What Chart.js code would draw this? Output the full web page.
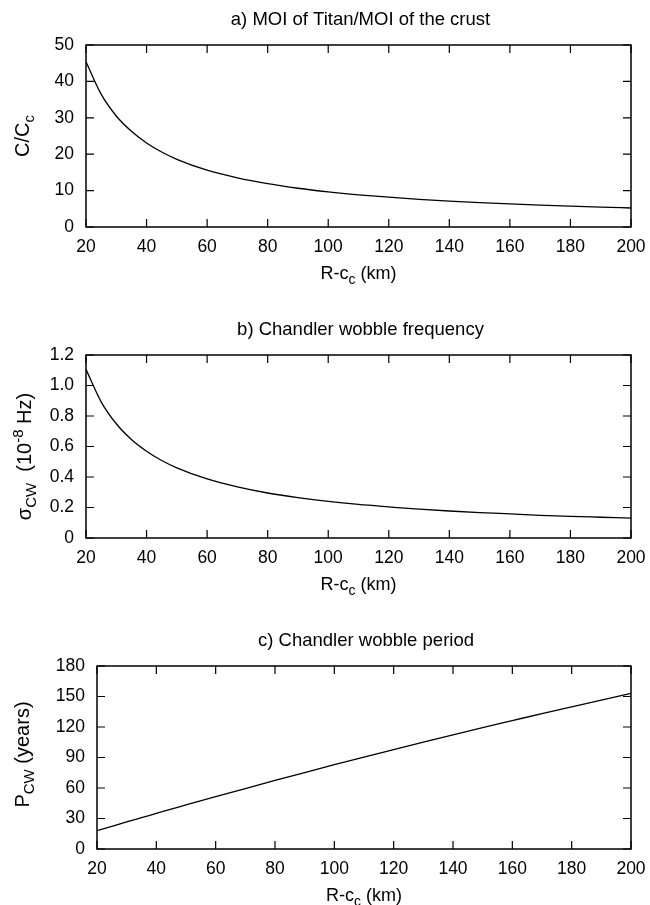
<!DOCTYPE html>
<html>
<head>
<meta charset="utf-8">
<script src="https://cdn.jsdelivr.net/npm/chart.js@4.4.1/dist/chart.umd.min.js"></script>
<style>
  body { margin: 0; background: #fff; width: 650px; height: 905px; overflow: hidden; position: relative; }
  .panel { position: absolute; left: 0; width: 650px; }
</style>
</head>
<body>
<div class="panel" style="top:0px;height:300px"><canvas id="moiChart" width="650" height="300"></canvas></div>
<div class="panel" style="top:300px;height:310px"><canvas id="freqChart" width="650" height="310"></canvas></div>
<div class="panel" style="top:610px;height:295px"><canvas id="periodChart" width="650" height="295"></canvas></div>
<script>
// crust thickness R-c_c (km)
const rKm = [20, 25, 30, 35, 40, 45, 50, 60, 70, 80, 90, 100, 110, 120, 130, 140, 150, 160, 170, 180, 190, 200];
// a) C/C_c
const moiRatio = [45.4, 36.5, 30.5, 26.3, 23.1, 20.6, 18.6, 15.6, 13.5, 11.9, 10.65, 9.66, 8.85, 8.18, 7.61, 7.12, 6.70, 6.33, 6.00, 5.71, 5.45, 5.22];
// b) sigma_CW (1e-8 Hz)
const cwFreq = [1.106, 0.893, 0.749, 0.646, 0.569, 0.508, 0.460, 0.387, 0.335, 0.295, 0.265, 0.240, 0.220, 0.204, 0.189, 0.177, 0.167, 0.158, 0.149, 0.142, 0.136, 0.130];
// c) P_CW (years)
const cwPeriod = [18.0, 22.3, 26.6, 30.8, 35.0, 39.2, 43.3, 51.5, 59.5, 67.4, 75.2, 82.9, 90.4, 97.8, 105.1, 112.3, 119.4, 126.3, 133.2, 139.9, 146.5, 153.0];

const xTicks = [20, 40, 60, 80, 100, 120, 140, 160, 180, 200];
const moiTicks = [0, 10, 20, 30, 40, 50];
const freqTicks = [0, 0.2, 0.4, 0.6, 0.8, 1.0, 1.2];
const periodTicks = [0, 30, 60, 90, 120, 150, 180];

const FONT = "'Liberation Sans', Arial, Helvetica, sans-serif";

// draws a string made of [text, kind] parts, kind = '' | 'sub' | 'sup', centred on x
function drawRich(ctx, parts, x, y, size) {
    const small = Math.round(size * 0.75);
    let total = 0;
    parts.forEach(([t, k]) => {
        ctx.font = (k ? small : size) + 'px ' + FONT;
        total += ctx.measureText(t).width;
    });
    let cx = x - total / 2;
    ctx.textAlign = 'left';
    ctx.textBaseline = 'alphabetic';
    parts.forEach(([t, k]) => {
        ctx.font = (k ? small : size) + 'px ' + FONT;
        const dy = k == 'sub' ? 5 : (k == 'sup' ? -8 : 0);
        ctx.fillText(t, cx, y + dy);
        cx += ctx.measureText(t).width;
    });
}

function panelDecor(cfg) {
    return {
        id: 'panelDecor',
        afterDraw(chart) {
            const ctx = chart.ctx;
            const a = chart.chartArea;
            const xs = chart.scales.x, ys = chart.scales.y;
            ctx.save();
            ctx.strokeStyle = '#000';
            ctx.fillStyle = '#000';
            ctx.lineWidth = 1.5;
            ctx.strokeRect(a.left, a.top, a.right - a.left, a.bottom - a.top);
            ctx.lineWidth = 1.2;
            ctx.beginPath();
            xs.ticks.forEach(t => {
                const px = xs.getPixelForValue(t.value);
                ctx.moveTo(px, a.bottom); ctx.lineTo(px, a.bottom - 8);
                ctx.moveTo(px, a.top); ctx.lineTo(px, a.top + 8);
            });
            ys.ticks.forEach(t => {
                const py = ys.getPixelForValue(t.value);
                ctx.moveTo(a.left, py); ctx.lineTo(a.left + 8, py);
                ctx.moveTo(a.right, py); ctx.lineTo(a.right - 8, py);
            });
            ctx.stroke();

            const midX = (a.left + a.right) / 2;
            drawRich(ctx, [[cfg.title, '']], midX + 2, a.top - 20, 18.5);
            drawRich(ctx, [['R-c', ''], ['c', 'sub'], [' (km)', '']], midX, a.bottom + 52, 18);

            ctx.translate(cfg.yTitleX, (a.top + a.bottom) / 2 + cfg.yTitleShift);
            ctx.rotate(-Math.PI / 2);
            drawRich(ctx, cfg.yTitle, 0, 0, cfg.yTitleSize);
            ctx.restore();
        }
    };
}

function makePanel(canvasId, values, yTicks, cfg) {
    const step = yTicks[1] - yTicks[0];
    return new Chart(document.getElementById(canvasId).getContext('2d'), {
        type: 'line',
        data: {
            datasets: [{
                data: rKm.map((r, i) => ({ x: r, y: values[i] })),
                borderColor: '#000',
                borderWidth: 1.3,
                pointRadius: 0,
                fill: false,
                cubicInterpolationMode: 'monotone'
            }]
        },
        options: {
            responsive: false,
            animation: false,
            events: [],
            layout: { padding: { top: cfg.top, right: 19, bottom: 0, left: 0 } },
            plugins: { legend: { display: false }, tooltip: { enabled: false } },
            scales: {
                x: {
                    type: 'linear',
                    min: xTicks[0],
                    max: xTicks[xTicks.length - 1],
                    grid: { display: false, drawTicks: false },
                    border: { display: false },
                    ticks: {
                        stepSize: xTicks[1] - xTicks[0],
                        color: '#000',
                        padding: 10,
                        maxRotation: 0,
                        font: { family: FONT, size: 17.5 }
                    },
                    afterFit: s => { s.height = cfg.xHeight; s.paddingLeft = 0; s.paddingRight = 0; }
                },
                y: {
                    type: 'linear',
                    min: yTicks[0],
                    max: yTicks[yTicks.length - 1],
                    grid: { display: false, drawTicks: false },
                    border: { display: false },
                    ticks: {
                        stepSize: step,
                        color: '#000',
                        padding: 12,
                        font: { family: FONT, size: 17.5 },
                        callback: cfg.fmt
                    },
                    afterFit: s => { s.width = cfg.left; s.paddingTop = 0; s.paddingBottom = 0; }
                }
            }
        },
        plugins: [panelDecor(cfg)]
    });
}

makePanel('moiChart', moiRatio, moiTicks, {
    title: 'a) MOI of Titan/MOI of the crust',
    yTitle: [['C/C', ''], ['c', 'sub']],
    yTitleX: 29, yTitleShift: 0, yTitleSize: 20,
    top: 45, left: 86, xHeight: 73,
    fmt: v => String(v)
});

makePanel('freqChart', cwFreq, freqTicks, {
    title: 'b) Chandler wobble frequency',
    yTitle: [['σ', ''], ['CW', 'sub'], ['  (10', ''], ['-8', 'sup'], [' Hz)', '']],
    yTitleX: 31, yTitleShift: 10, yTitleSize: 20,
    top: 55, left: 86, xHeight: 72,
    fmt: v => v === 0 ? '0' : Number(v).toFixed(1)
});

makePanel('periodChart', cwPeriod, periodTicks, {
    title: 'c) Chandler wobble period',
    yTitle: [['P', ''], ['CW', 'sub'], [' (years)', '']],
    yTitleX: 29, yTitleShift: -3, yTitleSize: 20,
    top: 56, left: 97, xHeight: 56,
    fmt: v => String(v)
});
</script>
</body>
</html>
